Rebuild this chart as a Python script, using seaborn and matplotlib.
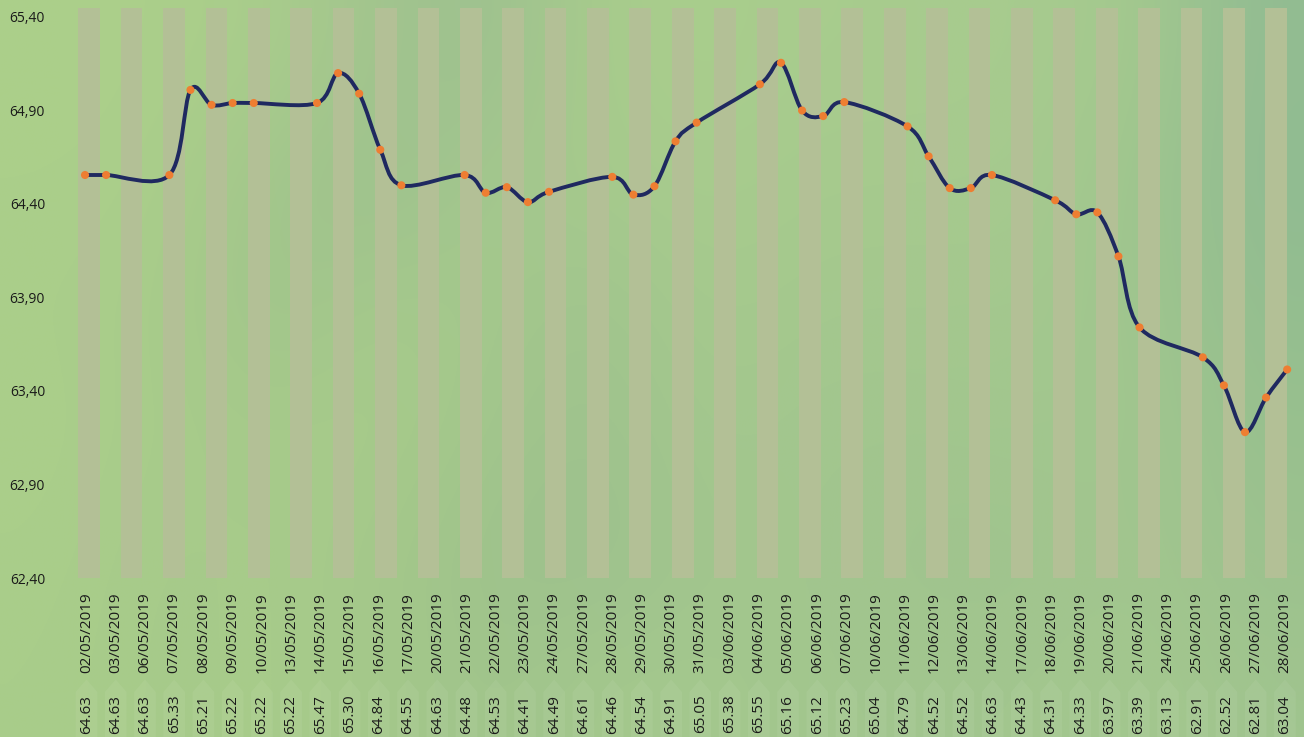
import numpy as np
import matplotlib
matplotlib.use("Agg")
import matplotlib.pyplot as plt
from matplotlib.path import Path
from matplotlib.patches import PathPatch, Polygon
from matplotlib.colors import to_rgb
import seaborn as sns

# trading days and the closing values
dates = ["02/05/2019", "03/05/2019", "06/05/2019", "07/05/2019", "08/05/2019", "09/05/2019",
         "10/05/2019", "13/05/2019", "14/05/2019", "15/05/2019", "16/05/2019", "17/05/2019",
         "20/05/2019", "21/05/2019", "22/05/2019", "23/05/2019", "24/05/2019", "27/05/2019",
         "28/05/2019", "29/05/2019", "30/05/2019", "31/05/2019", "03/06/2019", "04/06/2019",
         "05/06/2019", "06/06/2019", "07/06/2019", "10/06/2019", "11/06/2019", "12/06/2019",
         "13/06/2019", "14/06/2019", "17/06/2019", "18/06/2019", "19/06/2019", "20/06/2019",
         "21/06/2019", "24/06/2019", "25/06/2019", "26/06/2019", "27/06/2019", "28/06/2019"]
# calendar day counted from 02/05/2019 (date axis of the line)
day_offset = [0, 1, 4, 5, 6, 7, 8, 11, 12, 13, 14, 15, 18, 19, 20, 21, 22, 25, 26, 27, 28, 29,
              32, 33, 34, 35, 36, 39, 40, 41, 42, 43, 46, 47, 48, 49, 50, 53, 54, 55, 56, 57]
price = [64.555, 64.555, 64.555, 65.01, 64.93, 64.94, 64.94, 64.94, 65.10, 64.99, 64.69, 64.50,
         64.555, 64.46, 64.49, 64.41, 64.465, 64.545, 64.45, 64.495, 64.735, 64.835,
         65.04, 65.155, 64.90, 64.87, 64.945, 64.815, 64.655, 64.485, 64.485, 64.555,
         64.42, 64.345, 64.355, 64.12, 63.74, 63.58, 63.43, 63.18, 63.365, 63.515]
# values printed in the row under the dates
table_values = ["64.63", "64.63", "64.63", "65.33", "65.21", "65.22", "65.22", "65.22", "65.47",
                "65.30", "64.84", "64.55", "64.63", "64.48", "64.53", "64.41", "64.49", "64.61",
                "64.46", "64.54", "64.91", "65.05", "65.38", "65.55", "65.16", "65.12", "65.23",
                "65.04", "64.79", "64.52", "64.52", "64.63", "64.43", "64.31", "64.33", "63.97",
                "63.39", "63.13", "62.91", "62.52", "62.81", "63.04"]
yticks = [62.40, 62.90, 63.40, 63.90, 64.40, 64.90, 65.40]
ytick_labels = ["62,40", "62,90", "63,40", "63,90", "64,40", "64,90", "65,40"]
# decorative background columns
band_ids = list(range(29))
band_top = [65.45] * 29

# leafy backdrop, rough colour grid
bg_rows = [
    ["ACD08A", "ABCF8A", "A9CD8C", "A2C48E", "9DC090", "A8CC8C", "A9CE8C", "A8CC8E", "A8CC8E", "A7CB8E", "A4C98E", "92BC92"],
    ["ABCF8A", "AACE8A", "A2C58C", "9DC18E", "A4C88E", "A6CA8C", "A8CC8E", "A6CA8E", "A6CA8E", "A6CA8E", "9FC68E", "90BB92"],
    ["AACE8A", "A8CC8A", "A0C48C", "A6CA8C", "A4C88C", "A0C48E", "A6CA8E", "A4C88E", "A4C88E", "A4C88E", "A0C68E", "94BE90"],
    ["ABCF8A", "A8CC8A", "A6CA8A", "A8CC8A", "A2C68C", "9EC28E", "A4C88E", "A2C68E", "A2C68E", "A2C78E", "A2C78E", "98C08E"],
    ["AACE8A", "A6CA8A", "A8CC8A", "A4C88A", "9EC28C", "9CC08E", "A2C68E", "A2C68E", "A0C48E", "A0C48E", "A2C68E", "9CC28E"],
    ["A9CD8A", "A6CA8A", "A8CC8A", "A4C88A", "A0C48C", "A4C88C", "A4C88E", "A2C68E", "A2C68E", "A2C68E", "A4C88E", "A0C48E"],
]

LINE = "#1F2960"
DOT = "#EE7E32"
BAND = "#B3C096"
TXT = "#1A1A1A"


def smooth_path(xs, ys):
    # excel-like smoothed line: catmull-rom turned into cubic beziers
    pts = np.column_stack([xs, ys]).astype(float)
    ext = np.vstack([pts[0], pts, pts[-1]])
    verts = [pts[0]]
    codes = [Path.MOVETO]
    for i in range(len(pts) - 1):
        p0, p1, p2, p3 = ext[i], ext[i + 1], ext[i + 2], ext[i + 3]
        verts += [p1 + (p2 - p0) / 6, p2 - (p3 - p1) / 6, p2]
        codes += [Path.CURVE4] * 3
    return Path(verts, codes)


sns.set_theme(style="white")
plt.rcParams['font.family'] = ['Open Sans', 'DejaVu Sans']

W, H = 1304, 737
fig = plt.figure(figsize=(W / 100, H / 100), dpi=100)

bg = fig.add_axes([0, 0, 1, 1])
bg.set_zorder(-5)
bg.axis("off")
grid = np.array([[to_rgb("#" + c) for c in row] for row in bg_rows])
bg.imshow(grid, aspect="auto", extent=[0, 1, 0, 1], interpolation="bicubic")

L, R, B, T = 68, 1297.5, 578, 8
ax = fig.add_axes([L / W, 1 - B / H, (R - L) / W, (B - T) / H])
ax2 = ax.twiny()
ax3 = ax.twiny()
for a in (ax, ax2, ax3):
    a.patch.set_visible(False)
    for s in a.spines.values():
        s.set_visible(False)
ax.set_zorder(3)
ax2.set_zorder(1)
ax3.set_zorder(2)

# columns
sns.barplot(x=band_ids, y=band_top, ax=ax2, color=BAND, width=0.512, saturation=1,
            edgecolor="none", linewidth=0)
ax2.set_xlim(-0.5, 28.5)
ax2.set_xticks([])
ax2.set_xlabel("")

# smoothed line + points
ax.add_patch(PathPatch(smooth_path(day_offset, price), facecolor="none", edgecolor=LINE,
                       lw=2.8, capstyle="round", joinstyle="round", zorder=3))
sns.scatterplot(x=day_offset, y=price, ax=ax, color=DOT, s=34, edgecolor="none", zorder=4)
ax.set_xlim(-0.806, 57.49)
ax.set_xticks([])
ax.set_ylim(62.40, 65.448)
ax.set_yticks(yticks, labels=ytick_labels)
ax.tick_params(axis="y", length=0, pad=16.5, labelsize=10, labelcolor=TXT)
ax.set_ylabel("")

# date labels and value row
ax3.set_xlim(-0.633, 41.43)
ax3.set_xticks([])
tr = ax3.get_xaxis_transform()
for k, (d, v) in enumerate(zip(dates, table_values)):
    ax3.add_patch(Polygon([(k - 0.37, -0.32), (k - 0.37, -0.2), (k, -0.178), (k + 0.37, -0.2),
                           (k + 0.37, -0.32)], closed=True, transform=tr, clip_on=False,
                          facecolor="white", edgecolor="none", alpha=0.06))
    ax3.text(k, -0.0246, d, rotation=90, ha="center", va="top", transform=tr,
             fontsize=11, color=TXT)
    ax3.text(k, -0.205, v, rotation=90, ha="center", va="top", transform=tr,
             fontsize=11, color=TXT)

fig.savefig("out.png", dpi=100)
